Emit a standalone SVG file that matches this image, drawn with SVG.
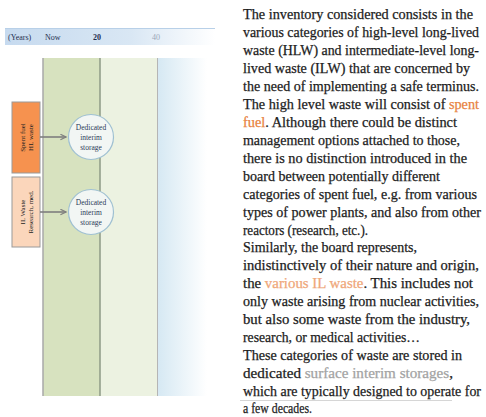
<svg xmlns="http://www.w3.org/2000/svg" width="486" height="417" viewBox="0 0 486 417">
<defs>
<linearGradient id="hdr" x1="0" y1="0" x2="1" y2="0">
<stop offset="0" stop-color="#c6daef"/>
<stop offset="0.6" stop-color="#d9e7f4"/>
<stop offset="1" stop-color="#ffffff"/>
</linearGradient>
<linearGradient id="blue" x1="0" y1="0" x2="1" y2="0">
<stop offset="0" stop-color="#d5e8f3"/>
<stop offset="1" stop-color="#ffffff"/>
</linearGradient>
<linearGradient id="topline" x1="0" y1="0" x2="1" y2="0">
<stop offset="0" stop-color="#8c8c8c"/>
<stop offset="0.7" stop-color="#b8b8b8"/>
<stop offset="1" stop-color="#ffffff"/>
</linearGradient>
<marker id="arr" viewBox="0 0 10 10" refX="9" refY="5" markerWidth="7" markerHeight="7" orient="auto" markerUnits="userSpaceOnUse">
<path d="M1,1 L9,5 L1,9" fill="none" stroke="#7f7f7f" stroke-width="1.6"/>
</marker>
</defs>
<style>
.hd{font-family:"Liberation Serif",serif;font-size:8px;fill:#1f2f4f}
.box{stroke:#9a9a9a;stroke-width:1}
.lbl{font-family:"Liberation Serif",serif;font-size:7px;fill:#222;text-anchor:middle}
.cir{fill:#f2f6f4;stroke:#9fc0d2;stroke-width:1.2}
.ct{font-family:"Liberation Serif",serif;font-size:7.5px;fill:#2b3a58;text-anchor:middle}
.conn{stroke:#7f7f7f;stroke-width:1.6;fill:none}
.body{font-family:"Liberation Serif",serif;font-size:14px;fill:#1c1c1c;stroke:#1c1c1c;stroke-width:0.25}
.or{fill:#e8823e;stroke:#e8823e}
.lo{fill:#efa77a;stroke:#efa77a}
.gr{fill:#a3a3a3;stroke:#a3a3a3}
</style>

<g id="header">
<rect x="5" y="28" width="210" height="17" fill="url(#hdr)"/>
<line x1="5" y1="28.5" x2="215" y2="28.5" stroke="#b8d0e8" stroke-width="1"/>
<text class="hd" x="8" y="40">(Years)</text>
<text class="hd" x="45" y="40">Now</text>
<text class="hd" x="93" y="40" font-weight="bold">20</text>
<text class="hd" x="152" y="40" style="fill:#9aa6b8">40</text>
</g>

<g id="timeline">
<rect x="43" y="58" width="57" height="338" fill="#d7e2bf"/>
<rect x="100" y="58" width="57" height="338" fill="#ecf2e1"/>
<rect x="157" y="58" width="50" height="338" fill="url(#blue)"/>
<line x1="43" y1="58" x2="43" y2="396" stroke="#a8a8a8" stroke-width="1.5"/>
<line x1="100" y1="58" x2="100" y2="396" stroke="#8e9a86" stroke-width="1.5"/>
<line x1="157.5" y1="58" x2="157.5" y2="396" stroke="#b5b5b5" stroke-width="1"/>
<line x1="43" y1="58.5" x2="207" y2="58.5" stroke="url(#topline)" stroke-width="1.5"/>
</g>

<g id="hl-waste">
<rect class="box" x="12" y="102" width="28" height="71" fill="#f6924f"/>
<text class="lbl" transform="translate(25,137.5) rotate(-90)">Spent fuel</text>
<text class="lbl" transform="translate(33,137.5) rotate(-90)">HL waste</text>
</g>

<g id="il-waste">
<rect class="box" x="12" y="177" width="28" height="70" fill="#fbd6bb"/>
<text class="lbl" transform="translate(25,212) rotate(-90)">IL Waste</text>
<text class="lbl" transform="translate(33,212) rotate(-90)">Research, med.</text>
</g>

<g id="storage-1">
<circle class="cir" cx="91" cy="137" r="22.5"/>
<text class="ct" x="91" y="129.5">Dedicated</text>
<text class="ct" x="91" y="139.5">interim</text>
<text class="ct" x="91" y="149.5">storage</text>
</g>

<g id="storage-2">
<circle class="cir" cx="91" cy="212" r="22.5"/>
<text class="ct" x="91" y="204.5">Dedicated</text>
<text class="ct" x="91" y="214.5">interim</text>
<text class="ct" x="91" y="224.5">storage</text>
</g>

<g id="connectors">
<line class="conn" x1="40" y1="137" x2="66" y2="137" marker-end="url(#arr)"/>
<line class="conn" x1="40" y1="212" x2="66" y2="212" marker-end="url(#arr)"/>
</g>

<g id="description">
<line x1="240" y1="400.5" x2="452" y2="400.5" stroke="#d6d6d6" stroke-width="1"/>
<text class="body" x="243" y="19" textLength="230" lengthAdjust="spacingAndGlyphs">The inventory considered consists in the</text>
<text class="body" x="243" y="37" textLength="236" lengthAdjust="spacingAndGlyphs">various categories of high-level long-lived</text>
<text class="body" x="243" y="55" textLength="236" lengthAdjust="spacingAndGlyphs">waste (HLW) and intermediate-level long-</text>
<text class="body" x="243" y="73" textLength="227" lengthAdjust="spacingAndGlyphs">lived waste (ILW) that are concerned by</text>
<text class="body" x="243" y="91" textLength="236" lengthAdjust="spacingAndGlyphs">the need of implementing a safe terminus.</text>
<text class="body" x="243" y="109" textLength="236" lengthAdjust="spacingAndGlyphs">The high level waste will consist of <tspan class="or">spent</tspan></text>
<text class="body" x="243" y="127" textLength="214" lengthAdjust="spacingAndGlyphs"><tspan class="or">fuel</tspan>. Although there could be distinct</text>
<text class="body" x="243" y="145" textLength="217" lengthAdjust="spacingAndGlyphs">management options attached to those,</text>
<text class="body" x="243" y="163" textLength="224" lengthAdjust="spacingAndGlyphs">there is no distinction introduced in the</text>
<text class="body" x="243" y="181" textLength="197" lengthAdjust="spacingAndGlyphs">board between potentially different</text>
<text class="body" x="243" y="199" textLength="234" lengthAdjust="spacingAndGlyphs">categories of spent fuel, e.g. from various</text>
<text class="body" x="243" y="217" textLength="238" lengthAdjust="spacingAndGlyphs">types of power plants, and also from other</text>
<text class="body" x="243" y="235" textLength="125" lengthAdjust="spacingAndGlyphs">reactors (research, etc.).</text>
<text class="body" x="243" y="252" textLength="174" lengthAdjust="spacingAndGlyphs">Similarly, the board represents,</text>
<text class="body" x="243" y="270" textLength="236" lengthAdjust="spacingAndGlyphs">indistinctively of their nature and origin,</text>
<text class="body" x="243" y="288" textLength="230" lengthAdjust="spacingAndGlyphs">the <tspan class="lo">various IL waste</tspan>. This includes not</text>
<text class="body" x="243" y="306" textLength="236" lengthAdjust="spacingAndGlyphs">only waste arising from nuclear activities,</text>
<text class="body" x="243" y="324" textLength="227" lengthAdjust="spacingAndGlyphs">but also some waste from the industry,</text>
<text class="body" x="243" y="342" textLength="177" lengthAdjust="spacingAndGlyphs">research, or medical activities…</text>
<text class="body" x="243" y="360" textLength="219" lengthAdjust="spacingAndGlyphs">These categories of waste are stored in</text>
<text class="body" x="243" y="378" textLength="210" lengthAdjust="spacingAndGlyphs">dedicated <tspan class="gr">surface interim storages</tspan>,</text>
<text class="body" x="243" y="396" textLength="238" lengthAdjust="spacingAndGlyphs">which are typically designed to operate for</text>
<text class="body" x="243" y="413" textLength="69" lengthAdjust="spacingAndGlyphs">a few decades.</text>
</g>
</svg>
